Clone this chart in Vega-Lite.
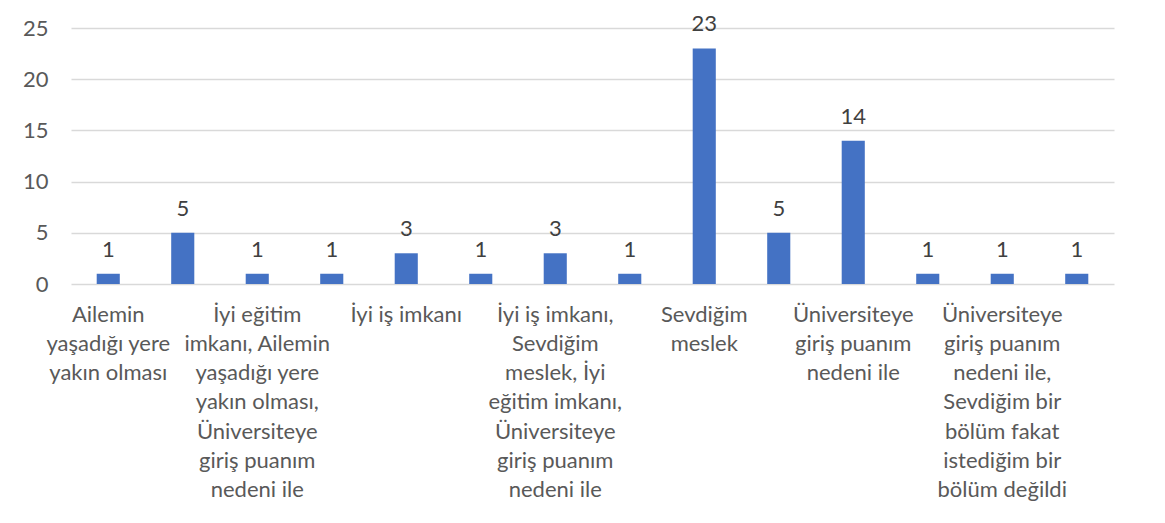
{
  "$schema": "https://vega.github.io/schema/vega-lite/v6.json",
  "width": 1043,
  "height": 256,
  "autosize": {"type": "none"},
  "padding": {"left": 71, "top": 28, "right": 51, "bottom": 239},
  "background": "white",
  "config": {
    "view": {"stroke": null},
    "font": "Lato"
  },
  "data": {
    "values": [
      {"kategori": "Ailemin\nyaşadığı yere\nyakın olması", "sayi": 1},
      {"kategori": "Ailemin yaşadığı yere\nyakın olması, Üniversiteye\ngiriş puanım nedeni ile", "sayi": 5},
      {"kategori": "İyi eğitim\nimkanı, Ailemin\nyaşadığı yere\nyakın olması,\nÜniversiteye\ngiriş puanım\nnedeni ile", "sayi": 1},
      {"kategori": "İyi eğitim imkanı,\nÜniversiteye giriş\npuanım nedeni ile", "sayi": 1},
      {"kategori": "İyi iş imkanı", "sayi": 3},
      {"kategori": "İyi iş imkanı,\nAilemin yaşadığı\nyere yakın olması", "sayi": 1},
      {"kategori": "İyi iş imkanı,\nSevdiğim\nmeslek, İyi\neğitim imkanı,\nÜniversiteye\ngiriş puanım\nnedeni ile", "sayi": 3},
      {"kategori": "İyi iş imkanı,\nÜniversiteye giriş\npuanım nedeni ile", "sayi": 1},
      {"kategori": "Sevdiğim\nmeslek", "sayi": 23},
      {"kategori": "Sevdiğim meslek,\nİyi eğitim imkanı", "sayi": 5},
      {"kategori": "Üniversiteye\ngiriş puanım\nnedeni ile", "sayi": 14},
      {"kategori": "Üniversiteye giriş\npuanım nedeni ile,\nAilemin yaşadığı\nyere yakın olması", "sayi": 1},
      {"kategori": "Üniversiteye\ngiriş puanım\nnedeni ile,\nSevdiğim bir\nbölüm fakat\nistediğim bir\nbölüm değildi", "sayi": 1},
      {"kategori": "Üniversiteye giriş\npuanım nedeni ile,\nSevdiğim meslek", "sayi": 1}
    ]
  },
  "encoding": {
    "x": {
      "field": "kategori",
      "type": "nominal",
      "sort": null,
      "scale": {"paddingInner": 0.69, "paddingOuter": 0.345},
      "axis": {
        "title": null,
        "domain": false,
        "ticks": false,
        "labelAngle": 0,
        "labelAlign": "center",
        "labelBaseline": "top",
        "labelFont": "Lato",
        "labelFontSize": 22,
        "labelColor": "#595959",
        "labelLineHeight": 29.3,
        "labelPadding": 20,
        "labelOverlap": false,
        "labelBound": false,
        "labelLimit": 0,
        "labelExpr": "indexof(domain('x'), datum.value) % 2 == 0 ? split(datum.value, '\\n') : ''"
      }
    },
    "y": {
      "field": "sayi",
      "type": "quantitative",
      "scale": {"domain": [0, 25], "nice": false},
      "axis": {
        "title": null,
        "values": [0, 5, 10, 15, 20, 25],
        "domain": false,
        "ticks": false,
        "grid": true,
        "gridColor": "#D9D9D9",
        "gridWidth": 1.3,
        "labelFont": "Lato",
        "labelFontSize": 22,
        "labelColor": "#595959",
        "labelPadding": 23
      }
    }
  },
  "layer": [
    {"mark": {"type": "bar", "color": "#4472C4"}},
    {
      "mark": {
        "type": "text",
        "baseline": "alphabetic",
        "dy": -17,
        "fontSize": 22,
        "font": "Lato",
        "color": "#404040"
      },
      "encoding": {"text": {"field": "sayi", "type": "quantitative"}}
    }
  ]
}
